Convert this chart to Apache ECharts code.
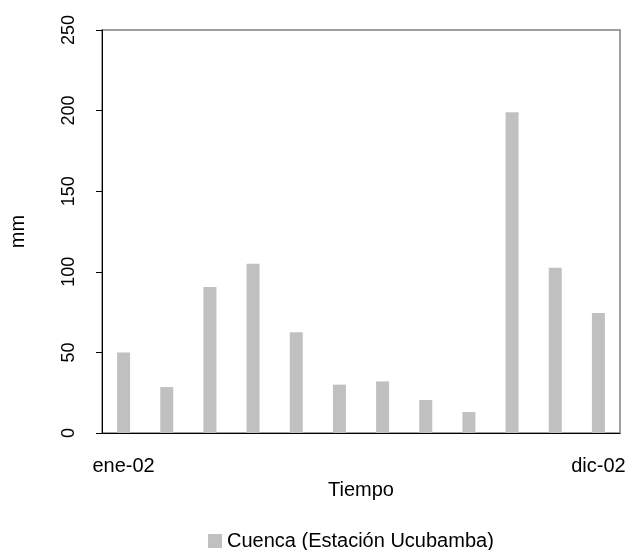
<!DOCTYPE html>
<html>
<head>
<meta charset="utf-8">
<script src="https://cdn.jsdelivr.net/npm/echarts@6/dist/echarts.min.js"></script>
<style>
  html, body { margin: 0; padding: 0; background: #fff; }
  #chart { width: 631px; height: 550px; }
</style>
</head>
<body>
<div id="chart"></div>
<script>
// meses de 2002
var meses = ['ene-02', 'feb-02', 'mar-02', 'abr-02', 'may-02', 'jun-02',
             'jul-02', 'ago-02', 'sep-02', 'oct-02', 'nov-02', 'dic-02'];
// precipitacion mensual (mm)
var cuenca = [50, 28.5, 90.5, 105, 62.5, 30, 32, 20.5, 13, 199, 102.5, 74.5];
var yTicks = [0, 50, 100, 150, 200, 250];

var fuente = 'Liberation Sans, Arial, sans-serif';
var myChart = echarts.init(document.getElementById('chart'));

// solo primer y ultimo mes en el eje
function extremos(i) { return i === 0 || i === meses.length - 1; }

var options = {
  animation: false,
  grid: {
    left: 101, right: 11, top: 30, bottom: 117,
    show: true, borderColor: '#808080', borderWidth: 1.5, backgroundColor: '#fff'
  },
  legend: {
    left: 203, top: 526,
    icon: 'rect', itemWidth: 14, itemHeight: 14,
    textStyle: { fontFamily: fuente, fontSize: 20, color: '#000' },
    data: ['Cuenca (Estación Ucubamba)']
  },
  xAxis: {
    type: 'category',
    data: meses,
    name: 'Tiempo',
    nameLocation: 'middle',
    nameGap: 35,
    nameTextStyle: { fontFamily: fuente, fontSize: 20, color: '#000' },
    axisLine: { lineStyle: { color: '#000', width: 1 } },
    axisTick: { length: 7, lineStyle: { color: '#000' }, interval: extremos },
    axisLabel: { fontFamily: fuente, fontSize: 20, color: '#000', margin: 23, interval: extremos },
    splitLine: { show: false }
  },
  yAxis: {
    type: 'value',
    min: yTicks[0],
    max: yTicks[yTicks.length - 1],
    interval: 50,
    name: 'mm',
    nameLocation: 'middle',
    nameGap: 74,
    nameTextStyle: { fontFamily: fuente, fontSize: 20, color: '#000' },
    axisLine: { show: true, lineStyle: { color: '#000', width: 1 } },
    axisTick: { show: true, length: 6, lineStyle: { color: '#000' } },
    axisLabel: { fontFamily: fuente, fontSize: 18, color: '#000', rotate: 90, margin: 24 },
    splitLine: { show: false }
  },
  series: [
    {
      name: 'Cuenca (Estación Ucubamba)',
      type: 'bar',
      data: cuenca,
      barWidth: 13,
      itemStyle: { color: '#c0c0c0' }
    }
  ]
};
myChart.setOption(options);
</script>
</body>
</html>
